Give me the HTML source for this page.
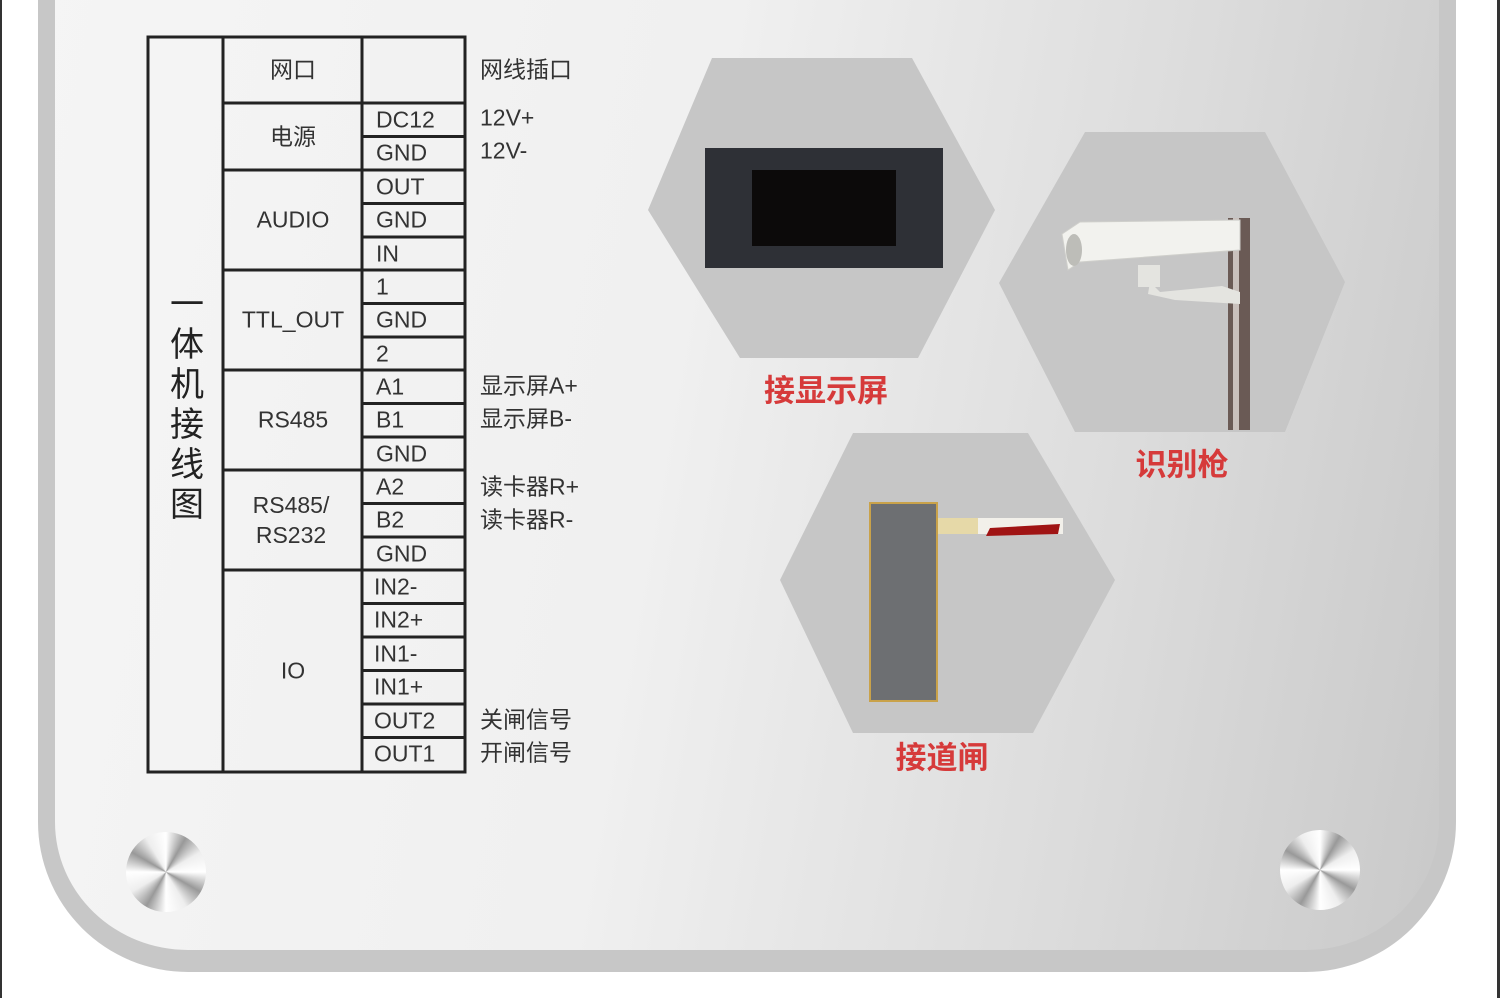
<!DOCTYPE html>
<html><head><meta charset="utf-8"><style>
html,body{margin:0;padding:0;}
body{width:1500px;height:998px;position:relative;overflow:hidden;background:#fff;font-family:"Liberation Sans","Noto Sans CJK SC",sans-serif;}
.panel{position:absolute;left:38px;top:-200px;width:1384px;height:1133px;border:17px solid #c7c7c7;border-bottom-width:22px;border-radius:0 0 150px 150px;background:linear-gradient(100deg,#f5f5f5 0%,#f0f0f0 45%,#dcdcdc 75%,#c9c9c9 100%);}
.t{position:absolute;color:#333;font-size:23px;line-height:1;white-space:nowrap;}
.c{transform:translate(-50%,-50%);}
.l{transform:translateY(-50%);}
.red{position:absolute;color:#d63a3a;font-size:31px;font-weight:bold;transform:translate(-50%,-50%);white-space:nowrap;}
.screw{position:absolute;width:80px;height:80px;border-radius:50%;background:conic-gradient(#fff 0deg,#999 30deg,#eee 60deg,#fff 90deg,#999 120deg,#eee 150deg,#fff 180deg,#999 210deg,#eee 240deg,#fff 270deg,#999 300deg,#eee 330deg,#fff 360deg);}
</style></head><body>
<div style="position:absolute;left:0;top:0;width:2px;height:998px;background:#333"></div>
<div style="position:absolute;right:0;top:0;width:3px;height:998px;background:#333"></div>
<div class="panel"></div>
<div class="screw" style="left:126px;top:832px"></div>
<div class="screw" style="left:1280px;top:830px"></div>
<svg width="1500" height="998" style="position:absolute;left:0;top:0">
<g fill="#c6c6c6">
<polygon points="712,58 912,58 995,210 918,358 740,358 648,210"/>
<polygon points="1085,132 1265,132 1345,282 1285,432 1075,432 999,283"/>
<polygon points="853,433 1028,433 1115,580 1033,733 853,733 780,580"/>
</g>
<rect x="705" y="148" width="238" height="120" fill="#2e3036"/>
<rect x="752" y="170" width="144" height="76" fill="#0c0a0a"/>
<rect x="1228" y="218" width="22" height="212" fill="#6a5a55"/>
<rect x="1233" y="218" width="6" height="212" fill="#c9c0bc"/>
<rect x="1138" y="265" width="22" height="22" fill="#e4e4e0"/>
<path d="M1150 282 L1160 292 L1222 286 L1240 292 L1240 304 L1175 300 L1148 294 Z" fill="#e4e4e0"/>
<path d="M1062 234 L1080 222 L1240 220 L1240 250 L1080 262 L1068 270 Z" fill="#f2f2ee" stroke="#cfcfcb"/>
<ellipse cx="1074" cy="250" rx="8" ry="16" fill="#bdbdb8"/>
<rect x="938" y="518" width="125" height="16" fill="#f2f0ea"/>
<rect x="938" y="518" width="40" height="16" fill="#e6d9a8"/>
<polygon points="990,528 1060,524 1058,534 986,536" fill="#a01414"/>
<rect x="870" y="503" width="67" height="198" fill="#6d6f72" stroke="#c9a24a" stroke-width="2"/>
<g stroke="#222" stroke-width="3" fill="none">
<rect x="148" y="37" width="317" height="735"/>
<line x1="223" y1="37" x2="223" y2="772"/>
<line x1="362" y1="37" x2="362" y2="772"/>
<line x1="223" y1="103" x2="465" y2="103"/>
<line x1="223" y1="170" x2="465" y2="170"/>
<line x1="223" y1="270" x2="465" y2="270"/>
<line x1="223" y1="370" x2="465" y2="370"/>
<line x1="223" y1="470" x2="465" y2="470"/>
<line x1="223" y1="570" x2="465" y2="570"/>
<line x1="362" y1="136.5" x2="465" y2="136.5"/>
<line x1="362" y1="203.5" x2="465" y2="203.5"/>
<line x1="362" y1="237" x2="465" y2="237"/>
<line x1="362" y1="303.5" x2="465" y2="303.5"/>
<line x1="362" y1="337" x2="465" y2="337"/>
<line x1="362" y1="403.5" x2="465" y2="403.5"/>
<line x1="362" y1="437" x2="465" y2="437"/>
<line x1="362" y1="503.5" x2="465" y2="503.5"/>
<line x1="362" y1="537" x2="465" y2="537"/>
<line x1="362" y1="603.5" x2="465" y2="603.5"/>
<line x1="362" y1="637" x2="465" y2="637"/>
<line x1="362" y1="670.5" x2="465" y2="670.5"/>
<line x1="362" y1="704" x2="465" y2="704"/>
<line x1="362" y1="737.5" x2="465" y2="737.5"/>
</g>
</svg>
<div class="t" style="left:167px;top:285px;width:40px;font-size:34px;line-height:40px;text-align:center;color:#222">一<br>体<br>机<br>接<br>线<br>图</div>
<div class="t c" style="left:293px;top:70px">网口</div>
<div class="t c" style="left:293px;top:137px">电源</div>
<div class="t c" style="left:293px;top:220px">AUDIO</div>
<div class="t c" style="left:293px;top:320px">TTL_OUT</div>
<div class="t c" style="left:293px;top:420px">RS485</div>
<div class="t c" style="left:291px;top:520px;text-align:center;line-height:30px">RS485/<br>RS232</div>
<div class="t c" style="left:293px;top:671px">IO</div>
<div class="t l" style="left:376px;top:120px">DC12</div>
<div class="t l" style="left:376px;top:153px">GND</div>
<div class="t l" style="left:376px;top:187px">OUT</div>
<div class="t l" style="left:376px;top:220px">GND</div>
<div class="t l" style="left:376px;top:254px">IN</div>
<div class="t l" style="left:376px;top:287px">1</div>
<div class="t l" style="left:376px;top:320px">GND</div>
<div class="t l" style="left:376px;top:354px">2</div>
<div class="t l" style="left:376px;top:387px">A1</div>
<div class="t l" style="left:376px;top:420px">B1</div>
<div class="t l" style="left:376px;top:454px">GND</div>
<div class="t l" style="left:376px;top:487px">A2</div>
<div class="t l" style="left:376px;top:520px">B2</div>
<div class="t l" style="left:376px;top:554px">GND</div>
<div class="t l" style="left:374px;top:587px">IN2-</div>
<div class="t l" style="left:374px;top:620px">IN2+</div>
<div class="t l" style="left:374px;top:654px">IN1-</div>
<div class="t l" style="left:374px;top:687px">IN1+</div>
<div class="t l" style="left:374px;top:721px">OUT2</div>
<div class="t l" style="left:374px;top:754px">OUT1</div>
<div class="t l" style="left:480px;top:70px">网线插口</div>
<div class="t l" style="left:480px;top:118px">12V+</div>
<div class="t l" style="left:480px;top:151px">12V-</div>
<div class="t l" style="left:480px;top:386px">显示屏A+</div>
<div class="t l" style="left:480px;top:419px">显示屏B-</div>
<div class="t l" style="left:480px;top:487px">读卡器R+</div>
<div class="t l" style="left:480px;top:520px">读卡器R-</div>
<div class="t l" style="left:480px;top:720px">关闸信号</div>
<div class="t l" style="left:480px;top:753px">开闸信号</div>
<div class="red" style="left:826px;top:388px">接显示屏</div>
<div class="red" style="left:1182px;top:462px">识别枪</div>
<div class="red" style="left:942px;top:755px">接道闸</div>
</body></html>
